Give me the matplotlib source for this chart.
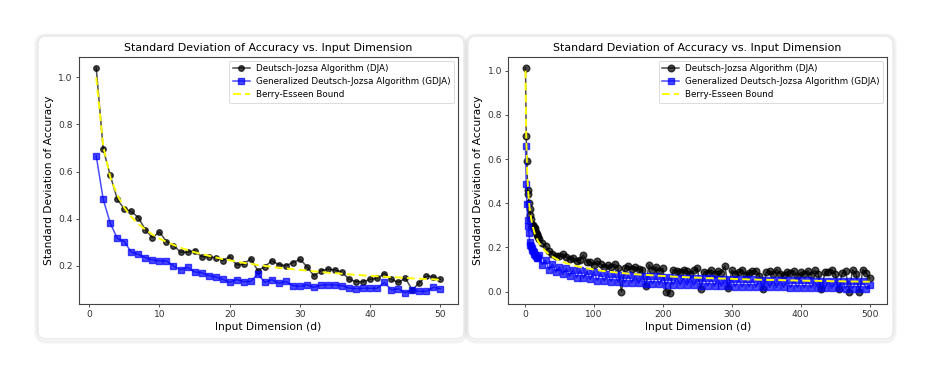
import matplotlib
matplotlib.use("Agg")
import matplotlib.pyplot as plt
from matplotlib.patches import FancyBboxPatch
from matplotlib.transforms import IdentityTransform

# ---------------- data: left panel (d = 1..50) ----------------
d_left = list(range(1, 51))
dja_left = [1.040, 0.695, 0.584, 0.483, 0.441, 0.431, 0.405, 0.353, 0.320, 0.344,
            0.303, 0.286, 0.259, 0.258, 0.265, 0.239, 0.239, 0.235, 0.222, 0.239,
            0.204, 0.207, 0.231, 0.180, 0.197, 0.222, 0.205, 0.201, 0.214, 0.228,
            0.197, 0.157, 0.180, 0.186, 0.183, 0.173, 0.143, 0.133, 0.133, 0.143,
            0.147, 0.167, 0.143, 0.130, 0.147, 0.098, 0.129, 0.157, 0.154, 0.143]
gdja_left = [0.667, 0.482, 0.381, 0.317, 0.303, 0.258, 0.249, 0.235, 0.225, 0.221,
             0.221, 0.200, 0.183, 0.194, 0.174, 0.171, 0.159, 0.153, 0.143, 0.130,
             0.142, 0.133, 0.134, 0.166, 0.130, 0.142, 0.126, 0.134, 0.116, 0.113,
             0.120, 0.109, 0.118, 0.120, 0.119, 0.116, 0.106, 0.103, 0.105, 0.105,
             0.105, 0.130, 0.098, 0.103, 0.086, 0.098, 0.092, 0.092, 0.109, 0.103]
bound_left = [1.000, 0.707, 0.577, 0.500, 0.447, 0.408, 0.378, 0.354, 0.333, 0.316,
              0.302, 0.289, 0.277, 0.267, 0.258, 0.250, 0.243, 0.236, 0.229, 0.224,
              0.218, 0.213, 0.209, 0.204, 0.200, 0.196, 0.192, 0.189, 0.186, 0.183,
              0.180, 0.177, 0.174, 0.171, 0.169, 0.167, 0.164, 0.162, 0.160, 0.158,
              0.156, 0.154, 0.152, 0.151, 0.149, 0.147, 0.146, 0.144, 0.143, 0.141]

# ---------------- data: right panel (d = 1..19, then 20..500 step 5) ----------------
d_right = list(range(1, 20)) + list(range(20, 501, 5))
dja_right = [1.012, 0.705, 0.589, 0.462, 0.440, 0.400, 0.372, 0.345, 0.330, 0.302,
             0.295, 0.300, 0.292, 0.284, 0.288, 0.270, 0.262, 0.255, 0.246,
             0.236, 0.222, 0.205, 0.185, 0.172, 0.162, 0.160, 0.171, 0.158, 0.148,
             0.152, 0.138, 0.145, 0.165, 0.133, 0.136, 0.120, 0.139, 0.124, 0.112,
             0.119, 0.110, 0.124, 0.105, 0.000, 0.107, 0.116, 0.101, 0.111, 0.103,
             0.097, 0.026, 0.121, 0.099, 0.112, 0.093, 0.106, 0.000, -0.005, 0.100,
             0.095, 0.088, 0.100, 0.092, 0.082, 0.096, 0.106, 0.012, 0.091, 0.084,
             0.099, 0.080, 0.093, 0.086, 0.116, 0.015, 0.096, 0.079, 0.089, 0.099,
             0.076, 0.085, 0.093, 0.095, 0.072, 0.010, 0.087, 0.093, 0.078, 0.100,
             0.082, 0.074, 0.090, 0.083, 0.095, 0.070, 0.087, 0.079, 0.094, 0.075,
             0.096, 0.081, 0.010, 0.088, 0.091, 0.100, 0.078, 0.010, 0.085, 0.092,
             0.000, 0.098, 0.079, 0.000, 0.100, 0.083, 0.060]
gdja_right = [0.657, 0.488, 0.396, 0.325, 0.295, 0.264, 0.225, 0.210, 0.205, 0.198,
              0.190, 0.185, 0.178, 0.170, 0.168, 0.160, 0.158, 0.150, 0.152,
              0.165, 0.122, 0.142, 0.100, 0.125, 0.088, 0.112, 0.078, 0.105, 0.070,
              0.100, 0.064, 0.097, 0.060, 0.092, 0.055, 0.090, 0.050, 0.084, 0.048,
              0.082, 0.045, 0.080, 0.043, 0.076, 0.041, 0.075, 0.040, 0.073, 0.037,
              0.072, 0.036, 0.070, 0.034, 0.069, 0.033, 0.067, 0.031, 0.066, 0.031,
              0.064, 0.030, 0.063, 0.029, 0.062, 0.028, 0.062, 0.027, 0.060, 0.026,
              0.060, 0.025, 0.058, 0.024, 0.058, 0.024, 0.057, 0.023, 0.056, 0.022,
              0.055, 0.022, 0.055, 0.021, 0.054, 0.020, 0.054, 0.020, 0.053, 0.019,
              0.053, 0.019, 0.052, 0.018, 0.052, 0.018, 0.051, 0.017, 0.051, 0.017,
              0.050, 0.016, 0.050, 0.016, 0.049, 0.015, 0.049, 0.015, 0.048, 0.014,
              0.048, 0.014, 0.047, 0.013, 0.047, 0.013, 0.028]
bound_right = bound_left[:19] + [
    0.224, 0.200, 0.183, 0.169, 0.158, 0.149, 0.141, 0.135, 0.129, 0.124,
    0.120, 0.115, 0.112, 0.108, 0.105, 0.103, 0.100, 0.098, 0.095, 0.093,
    0.091, 0.089, 0.088, 0.086, 0.085, 0.083, 0.082, 0.080, 0.079, 0.078,
    0.077, 0.076, 0.075, 0.074, 0.073, 0.072, 0.071, 0.070, 0.069, 0.068,
    0.067, 0.067, 0.066, 0.065, 0.065, 0.064, 0.063, 0.063, 0.062, 0.061,
    0.061, 0.060, 0.060, 0.059, 0.059, 0.058, 0.058, 0.057, 0.057, 0.056,
    0.056, 0.055, 0.055, 0.055, 0.054, 0.054, 0.053, 0.053, 0.053, 0.052,
    0.052, 0.052, 0.051, 0.051, 0.051, 0.050, 0.050, 0.050, 0.049, 0.049,
    0.049, 0.049, 0.048, 0.048, 0.048, 0.047, 0.047, 0.047, 0.047, 0.046,
    0.046, 0.046, 0.046, 0.045, 0.045, 0.045, 0.045]

title = "Standard Deviation of Accuracy vs. Input Dimension"
xlabel = "Input Dimension (d)"
ylabel = "Standard Deviation of Accuracy"
labels = ["Deutsch-Jozsa Algorithm (DJA)",
          "Generalized Deutsch-Jozsa Algorithm (GDJA)",
          "Berry-Esseen Bound"]

# ---------------- figure ----------------
W, H = 932, 379
fig = plt.figure(figsize=(W / 100, H / 100), dpi=100)
fig.patch.set_facecolor("white")

# cards (pixel coords, origin bottom-left)
def card(x0, y0top, x1, y1bot):
    y0 = H - y1bot
    w = x1 - x0
    h = y1bot - y0top
    for i, a in enumerate([0.05, 0.04, 0.03]):
        sh = FancyBboxPatch((x0 - 1 - i, y0 - 2 - i), w + 2 + 2 * i, h + 2 + 2 * i,
                            boxstyle="round,pad=0,rounding_size=%d" % (9 + i),
                            transform=IdentityTransform(), facecolor="none",
                            edgecolor=(0, 0, 0, a), linewidth=1.0, zorder=-5)
        fig.patches.append(sh)
    p = FancyBboxPatch((x0, y0), w, h, boxstyle="round,pad=0,rounding_size=8",
                       transform=IdentityTransform(), facecolor="white",
                       edgecolor="#e4e4e4", linewidth=0.8, zorder=-4)
    fig.patches.append(p)

card(38, 36, 464, 339)
card(468, 36, 893, 339)

axL = fig.add_axes([79 / W, 1 - 304 / H, (457.7 - 79) / W, (304 - 56.7) / H])
axR = fig.add_axes([508.3 / W, 1 - 304 / H, (887 - 508.3) / W, (304 - 56.7) / H])

def draw(ax, d, dja, gdja, bound, ms):
    ax.set_zorder(2)
    ax.plot(d, dja, color="black", marker="o", markersize=ms, linewidth=1.1,
            alpha=0.7, label=labels[0])
    ax.plot(d, gdja, color="blue", marker="s", markersize=ms, linewidth=1.1,
            alpha=0.7, label=labels[1])
    ax.plot(d, bound, color="yellow", linestyle="--", linewidth=1.4,
            dashes=(4, 2.2), label=labels[2])
    ax.set_title(title, fontsize=7.9, pad=4)
    ax.set_xlabel(xlabel, fontsize=7.7, labelpad=2)
    ax.set_ylabel(ylabel, fontsize=7.7, labelpad=3)
    ax.tick_params(labelsize=6.6, length=2.5, width=0.6, pad=2, colors="#333333")
    for s in ax.spines.values():
        s.set_linewidth(0.8)
        s.set_color("#444444")
    leg = ax.legend(loc="upper right", fontsize=6.3, handlelength=1.9,
                    borderpad=0.4, labelspacing=0.45, framealpha=0.8,
                    borderaxespad=0.45, handletextpad=0.7)
    leg.get_frame().set_linewidth(0.6)

draw(axL, d_left, dja_left, gdja_left, bound_left, 4.0)
draw(axR, d_right, dja_right, gdja_right, bound_right, 4.8)
axL.set_yticks([0.2, 0.4, 0.6, 0.8, 1.0])
axR.set_yticks([0.0, 0.2, 0.4, 0.6, 0.8, 1.0])

fig.savefig("out.png", dpi=100)
